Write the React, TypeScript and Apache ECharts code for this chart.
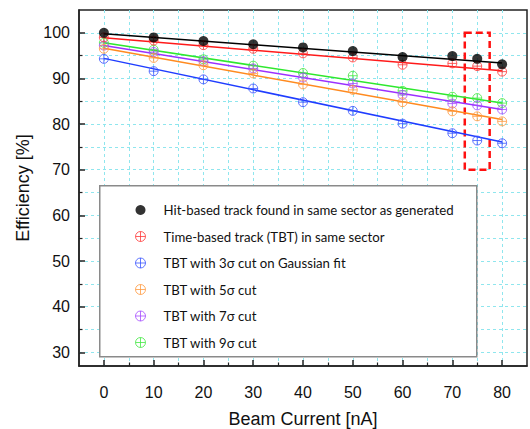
import React, { useEffect, useRef } from "react";
import * as echarts from "echarts";

// Beam current (nA)
const current = [0, 10, 20, 30, 40, 50, 60, 70, 75, 80];

// Efficiency (%) per selection
const hitBased = [100.0, 99.0, 98.2, 97.5, 96.8, 96.0, 94.7, 94.9, 94.3, 93.1];
const timeBased = [99.0, 98.3, 97.3, 96.5, 95.5, 94.6, 93.0, 93.3, 92.7, 91.5];
const cut3 = [94.3, 91.6, 89.8, 87.8, 84.8, 82.9, 80.1, 78.0, 76.4, 75.8];
const cut5 = [96.5, 94.5, 92.9, 91.1, 88.7, 87.5, 84.8, 82.8, 81.7, 80.6];
const cut7 = [97.2, 95.8, 93.8, 92.2, 90.2, 88.9, 86.4, 84.5, 84.1, 83.2];
const cut9 = [97.8, 96.3, 94.2, 92.8, 91.2, 90.6, 87.3, 86.0, 85.7, 84.6];

const seriesNames = [
  "Hit-based track found in same sector as generated",
  "Time-based track (TBT) in same sector",
  "TBT with 3σ cut on Gaussian fit",
  "TBT with 5σ cut",
  "TBT with 7σ cut",
  "TBT with 9σ cut",
];

// Linear fit lines, read at x = 0 and x = 80
const fitRange = [0, 80];
const fitStart = [99.8, 98.9, 94.4, 96.6, 97.2, 97.8];
const fitEnd = [93.4, 91.7, 76.1, 81.0, 83.2, 84.6];

// Highlight box (data coords)
const highlightX = [72.5, 77.5];
const highlightY = [70, 100];

// Axis ticks
const xMajorTicks = [0, 10, 20, 30, 40, 50, 60, 70, 80];
const xMinorTicks = [5, 15, 25, 35, 45, 55, 65, 75];
const yMajorTicks = [30, 40, 50, 60, 70, 80, 90, 100];
const yMinorTicks = [35, 45, 55, 65, 75, 85, 95];

const colors = ["#000000", "#ff1a1a", "#1f3dff", "#ff8a1f", "#9b30ff", "#2ee82e"];
const markerColors = ["#000000", "#ff3a3a", "#3a55ff", "#ff9a40", "#a54cff", "#44e844"];

const plusPath =
  "path://M0,-10A10,10,0,1,1,0,10A10,10,0,1,1,0,-10Z M-10,0L10,0 M0,-10L0,10";

const FONT = "Liberation Sans, Arial, Helvetica, sans-serif";

export default function App() {
  const ref = useRef<HTMLDivElement>(null);

  useEffect(() => {
    if (!ref.current) return;
    const chart = echarts.init(ref.current, undefined, { renderer: "svg" });
    const values = [hitBased, timeBased, cut3, cut5, cut7, cut9];

    const gridLine = {
      show: true,
      lineStyle: { color: "#8fe6ee", width: 1, type: [3, 3] as any },
    };

    const lineSeries = values.map((_, i) => ({
      type: "line" as const,
      name: seriesNames[i] + " fit",
      data: [
        [fitRange[0], fitStart[i]],
        [fitRange[1], fitEnd[i]],
      ],
      symbol: "none",
      showSymbol: false,
      silent: true,
      lineStyle: { color: colors[i], width: 1.5 },
      itemStyle: { color: colors[i] },
      z: 2,
    }));

    const scatterSeries = values.map((vals, i) => ({
      type: "scatter" as const,
      name: seriesNames[i],
      data: current.map((x, k) => [x, vals[k]]),
      symbol: i === 0 ? "circle" : plusPath,
      symbolSize: i === 0 ? 10 : 9,
      itemStyle:
        i === 0
          ? { color: "#000000" }
          : { color: "rgba(255,255,255,0)", borderColor: markerColors[i], borderWidth: 1 },
      z: 3 + (i === 0 ? 6 : 6 - i),
      ...(i === 0
        ? {
            markArea: {
              silent: true,
              itemStyle: {
                color: "rgba(0,0,0,0)",
                borderColor: "#ff1010",
                borderWidth: 2.5,
                borderType: [7, 4],
              },
              data: [
                [
                  { coord: [highlightX[0], highlightY[1]] },
                  { coord: [highlightX[1], highlightY[0]] },
                ],
              ],
            },
          }
        : {}),
    }));

    chart.setOption({
      animation: false,
      backgroundColor: "#ffffff",
      grid: {
        left: 79,
        top: 10,
        right: 3,
        bottom: 63,
        containLabel: false,
        outerBoundsMode: "none",
        show: true,
        borderColor: "#222",
        borderWidth: 1.5,
        backgroundColor: "rgba(0,0,0,0)",
      },
      graphic: [
        {
          type: "rect",
          left: 99,
          top: 185,
          z: 3,
          shape: { width: 377, height: 171 },
          style: { fill: "#ffffff", stroke: "#8a8a8a", lineWidth: 1.5 },
          silent: true,
        },
      ],
      xAxis: [
        {
          type: "value",
          min: -5,
          max: 85,
          name: "Beam Current [nA]",
          nameLocation: "middle",
          nameGap: 44,
          nameTextStyle: { fontFamily: FONT, fontSize: 18, color: "#111" },
          axisLine: { show: true, onZero: false, lineStyle: { color: "#222", width: 1.5 } },
          axisTick: { show: true, inside: true, length: 6, customValues: xMajorTicks, lineStyle: { color: "#222", width: 1.5 } },
          axisLabel: { customValues: xMajorTicks, fontFamily: FONT, fontSize: 16, color: "#111", margin: 18 },
          splitLine: gridLine,
        },
        {
          type: "value",
          min: -5,
          max: 85,
          position: "bottom",
          axisLine: { show: false, onZero: false },
          axisTick: { show: true, inside: true, length: 3.5, customValues: xMinorTicks, lineStyle: { color: "#222", width: 1.2 } },
          axisLabel: { show: false },
          splitLine: gridLine,
        },
      ],
      yAxis: [
        {
          type: "value",
          min: 27,
          max: 105,
          name: "Efficiency [%]",
          nameLocation: "middle",
          nameGap: 43,
          nameTextStyle: { fontFamily: FONT, fontSize: 18, color: "#111" },
          axisLine: { show: true, onZero: false, lineStyle: { color: "#222", width: 1.5 } },
          axisTick: { show: true, inside: true, length: 6, customValues: yMajorTicks, lineStyle: { color: "#222", width: 1.5 } },
          axisLabel: { customValues: yMajorTicks, fontFamily: FONT, fontSize: 16, color: "#111", margin: 9 },
          splitLine: gridLine,
        },
        {
          type: "value",
          min: 27,
          max: 105,
          position: "left",
          axisLine: { show: false, onZero: false },
          axisTick: { show: true, inside: true, length: 3.5, customValues: yMinorTicks, lineStyle: { color: "#222", width: 1.2 } },
          axisLabel: { show: false },
          splitLine: gridLine,
        },
      ],
      legend: {
        orient: "vertical",
        left: 99,
        top: 185,
        z: 5,
        padding: [17, 22, 8, 36],
        itemGap: 10.5,
        itemWidth: 10,
        itemHeight: 10,
        selectedMode: false,
        textStyle: {
          fontFamily: "Lato, Open Sans, sans-serif",
          fontSize: 13.2,
          color: "#111",
          lineHeight: 16,
          padding: [0, 0, 0, 13],
        },
        data: seriesNames.map((n, i) => ({
          name: n,
          icon: i === 0 ? "circle" : plusPath,
          itemStyle:
            i === 0
              ? { color: "#000000" }
              : { color: "rgba(255,255,255,0)", borderColor: markerColors[i], borderWidth: 1 },
        })),
      },
      series: [...lineSeries, ...scatterSeries],
    });

    return () => chart.dispose();
  }, []);

  return (
    <div
      ref={ref}
      style={{ position: "fixed", left: 0, top: 0, width: 530, height: 429 }}
    />
  );
}
